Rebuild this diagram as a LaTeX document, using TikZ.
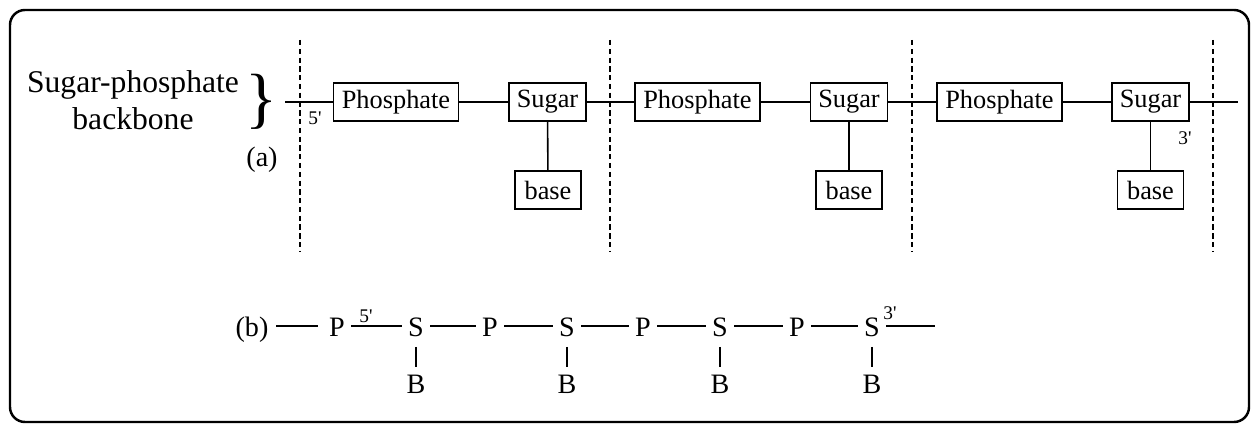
\documentclass[tikz,border=0pt]{standalone}
\usepackage{fontspec}
\setmainfont{Liberation Serif}
\usetikzlibrary{positioning}
\tikzset{
  % --- part (a): boxed units of the strand ---
  phosbox/.style={draw, line width=1.1pt, minimum width=25mm,
                  minimum height=7.6mm, inner sep=2pt,
                  font=\fontsize{15}{17}\selectfont},
  sugarbox/.style={phosbox, minimum width=15.4mm},
  basebox/.style={phosbox, minimum width=13.2mm},
  bond/.style={line width=0.9pt},
  cutline/.style={line width=1.2pt, dash pattern=on 3pt off 2pt},
  primelabel/.style={font=\fontsize{11}{12}\selectfont, inner sep=0pt},
  % --- part (b): letters only ---
  atom/.style={font=\fontsize{16}{18}\selectfont, inner sep=3.4pt,
               text height=11.5pt, text depth=0pt},
  thinbond/.style={line width=0.7pt},
}

\begin{document}
\begin{tikzpicture}[x=0.02cm, y=-0.02cm]
  \useasboundingbox (0,0) rectangle (1252,425);
  \draw[line width=1.4pt, rounded corners=8.5pt] (10,10) rectangle (1249,422);

  % caption on the left of the strand
  \node[align=center, font=\fontsize{18}{21}\selectfont] (title) at (133,100)
        {Sugar-phosphate\\backbone};
  \node[font=\fontsize{38}{38}\selectfont, inner sep=0pt] (brace) at (262,102) {\}};
  \node[font=\fontsize{16}{18}\selectfont] (la) at (262,160) {(a)};

  % cuts between the repeating units
  \draw[cutline] (300,40) -- (300,252);
  \draw[cutline] (610,40) -- (610,252);
  \draw[cutline] (912,40) -- (912,252);
  \draw[cutline] (1213,40) -- (1213,252);

  % (a) boxed strand
  \coordinate (a0) at (285,102);
  \coordinate (a1) at (1238,102);
  \node[phosbox]  (p1) at (396,102)    {Phosphate};
  \node[sugarbox] (s1) at (547.5,102)  {Sugar};
  \node[basebox]  (b1) at (548,190)    {base};
  \node[phosbox]  (p2) at (697.5,102)  {Phosphate};
  \node[sugarbox] (s2) at (849,102)    {Sugar};
  \node[basebox]  (b2) at (849,190)    {base};
  \node[phosbox]  (p3) at (999.5,102)  {Phosphate};
  \node[sugarbox] (s3) at (1150.5,102) {Sugar};
  \node[basebox]  (b3) at (1150.5,190) {base};
  \node[primelabel] (five)  at (315,118)  {5\textquotesingle};
  \node[primelabel] (three) at (1185,138) {3\textquotesingle};

  \draw[bond] (a0) -- (p1) -- (s1) -- (p2) -- (s2) -- (p3) -- (s3) -- (a1);
  \draw[bond] (s1) -- (b1);
  \draw[bond] (s2) -- (b2);
  \draw[bond] (s3) -- (b3);

  % (b) the same strand in letters
  \node[atom] (lb) at (252,326) {(b)};
  \node[atom] (q1) at (337,326) {P};
  \node[atom] (r1) at (416,326) {S};
  \node[atom] (q2) at (490,326) {P};
  \node[atom] (r2) at (567,326) {S};
  \node[atom] (q3) at (643,326) {P};
  \node[atom] (r3) at (720,326) {S};
  \node[atom] (q4) at (797,326) {P};
  \node[atom] (r4) at (872,326) {S};
  \coordinate (b0) at (935,326);
  \node[atom] (g1) at (416,383) {B};
  \node[atom] (g2) at (567,383) {B};
  \node[atom] (g3) at (720,383) {B};
  \node[atom] (g4) at (872,383) {B};
  \node[primelabel] (fiveb)  at (366,316) {5\textquotesingle};
  \node[primelabel] (threeb) at (890,313) {3\textquotesingle};

  \draw[thinbond, shorten <=1pt, shorten >=3pt] (lb) -- (q1);
  \draw[thinbond] (q1) -- (r1) -- (q2) -- (r2) -- (q3) -- (r3) -- (q4) -- (r4) -- (b0);
  \draw[thinbond, shorten <=2.5pt] (r1) -- (g1);
  \draw[thinbond, shorten <=2.5pt] (r2) -- (g2);
  \draw[thinbond, shorten <=2.5pt] (r3) -- (g3);
  \draw[thinbond, shorten <=2.5pt] (r4) -- (g4);
\end{tikzpicture}
\end{document}
